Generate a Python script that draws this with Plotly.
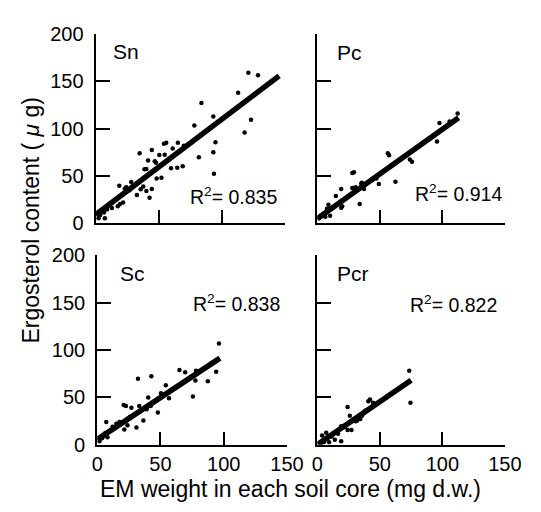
import plotly.graph_objects as go

# ---------------- data ----------------
panel_names = ["Sn", "Pc", "Sc", "Pcr"]
r2_labels = ["0.835", "0.914", "0.838", "0.822"]

sn_x = [120.7, 128.3, 112.6, 83.6, 93.0, 78.0, 122.8, 117.7, 94.7, 93.0, 81.6, 93.5,
        69.7, 65.0, 68.8, 64.5, 59.6, 60.9, 55.8, 54.0, 54.6, 50.3, 46.7, 52.0, 48.2,
        47.7, 44.4, 41.4, 34.8, 40.1, 38.6, 37.6, 42.6, 44.4, 40.1, 32.6, 35.6, 28.1,
        24.2, 18.7, 21.7, 19.2, 17.5, 12.9, 9.1, 6.6, 3.6, 2.3, 7.3, 3.3, 26.8, 23.0]
sn_y = [158.8, 156.0, 137.7, 127.0, 112.6, 103.2, 109.2, 95.8, 85.4, 75.0, 69.6, 52.3,
        81.7, 85.1, 60.3, 58.6, 58.0, 79.0, 85.0, 84.0, 72.4, 72.0, 65.6, 48.2, 47.2,
        64.0, 77.4, 66.3, 74.0, 57.3, 57.0, 38.9, 27.1, 36.2, 34.0, 29.8, 36.0, 43.5,
        38.2, 39.7, 22.1, 20.4, 18.0, 16.1, 14.7, 11.4, 8.7, 5.4, 5.4, 11.5, 34.9, 36.5]

pc_x = [112.2, 97.7, 105.8, 95.7, 75.7, 74.0, 56.4, 57.4, 62.5, 49.2, 35.7, 37.4,
        29.3, 28.0, 28.0, 30.6, 33.9, 19.1, 14.8, 19.9, 19.1, 8.9, 7.7, 10.2, 5.4,
        2.8, 1.5, 6.4, 35.1, 47.2, 42.8]
pc_y = [115.9, 105.8, 107.5, 86.4, 65.0, 67.3, 74.0, 71.7, 43.9, 41.5, 42.9, 36.2,
        54.0, 53.0, 37.2, 38.2, 20.4, 36.2, 28.8, 18.1, 16.4, 19.5, 15.5, 8.0, 10.4,
        7.0, 5.4, 7.0, 42.0, 47.2, 44.7]

sc_x = [96.2, 94.0, 87.4, 75.6, 77.6, 78.1, 69.5, 65.0, 54.2, 50.4, 47.9, 42.8,
        40.3, 42.3, 33.2, 32.2, 31.0, 27.0, 22.7, 20.9, 25.9, 23.9, 21.4, 17.6, 15.1,
        12.1, 11.3, 7.1, 8.1, 6.3, 1.8, 3.8, 56.7, 60.5, 39.0, 36.5]
sc_y = [106.8, 77.0, 66.8, 50.8, 67.8, 78.0, 76.3, 78.7, 62.7, 54.3, 33.9, 72.2,
        49.8, 40.7, 40.7, 69.5, 18.0, 39.0, 40.7, 41.7, 29.5, 20.3, 16.0, 23.8, 22.0,
        18.7, 15.3, 23.8, 7.8, 11.9, 3.5, 6.8, 49.0, 58.7, 37.3, 25.4]

pcr_x = [73.5, 74.5, 42.1, 40.8, 44.6, 34.4, 31.9, 24.2, 26.0, 27.3, 24.2, 19.1,
         19.1, 11.5, 7.1, 3.8, 9.4, 5.1, 2.6, 14.0, 16.6, 21.7, 30.6, 35.7, 38.3]
pcr_y = [78.0, 44.1, 47.5, 45.8, 44.1, 27.1, 25.4, 39.7, 30.5, 15.3, 15.3, 19.3,
         3.4, 8.5, 12.6, 9.7, 2.4, 2.4, 0.5, 5.1, 11.5, 18.5, 24.7, 30.5, 35.6]

# regression lines as drawn in the figure
fit_intercept = [9.0, 5.0, 5.5, 0.0]
fit_slope = [1.01, 0.94, 0.885, 0.905]
fit_xmax = [145.0, 113.0, 97.0, 75.0]

x_ticks = [0, 50, 100, 150]
y_ticks = [0, 50, 100, 150, 200]

xs = [sn_x, pc_x, sc_x, pcr_x]
ys = [sn_y, pc_y, sc_y, pcr_y]

# ---------------- layout ----------------
OFF = 8  # page body margin
W, H = 541 - OFF, 512 - OFF
FONT = "Liberation Sans, Arial, sans-serif"


def px_x(p):
    return (p - OFF) / W


def px_y(p):
    return 1 - (p - OFF) / H


x_domains = [[px_x(93.3), px_x(291.7)], [px_x(325), px_x(521)],
             [px_x(95), px_x(293.3)], [px_x(325), px_x(521)]]
y_domains = [[px_y(221.7), px_y(23.3)], [px_y(221.7), px_y(23.3)],
             [px_y(453), px_y(255)], [px_y(453), px_y(255)]]

fig = go.Figure()
layout = dict(
    width=W, height=H,
    margin=dict(l=0, r=0, t=0, b=0),
    paper_bgcolor="white", plot_bgcolor="white",
    showlegend=False,
    font=dict(family=FONT, color="black", size=20),
)

name_pos = [(12.1, 181.0), (14.0, 180.5), (16.4, 181.0), (14.0, 180.5)]
r2_pos = [(73.1, 29.0), (76.5, 32.0), (74.4, 150.0), (72.7, 149.0)]

annotations = []
for i in range(4):
    sfx = "" if i == 0 else str(i + 1)
    xa, ya = "x" + sfx, "y" + sfx
    fig.add_trace(go.Scatter(x=xs[i], y=ys[i], mode="markers",
                             marker=dict(color="black", size=4.5),
                             xaxis=xa, yaxis=ya))
    lx = [0, fit_xmax[i]]
    ly = [fit_intercept[i] + fit_slope[i] * v for v in lx]
    fig.add_trace(go.Scatter(x=lx, y=ly, mode="lines",
                             line=dict(color="black", width=5.5),
                             xaxis=xa, yaxis=ya))
    left_col = i in (0, 2)
    bottom_row = i in (2, 3)
    layout["xaxis" + sfx] = dict(
        domain=x_domains[i], range=[0, 150], anchor=ya,
        tickvals=x_ticks, ticks="inside", ticklen=13, tickwidth=2, tickcolor="black",
        showline=True, linewidth=2, linecolor="black", showgrid=False, zeroline=False,
        showticklabels=bottom_row, tickfont=dict(size=20, family=FONT),
        fixedrange=True,
    )
    layout["yaxis" + sfx] = dict(
        domain=y_domains[i], range=[0, 200], anchor=xa,
        tickvals=y_ticks, ticks="inside", ticklen=14, tickwidth=2, tickcolor="black",
        showline=True, linewidth=2, linecolor="black", showgrid=False, zeroline=False,
        showticklabels=left_col, tickfont=dict(size=20, family=FONT),
        ticklabelstandoff=6, fixedrange=True,
    )
    annotations.append(dict(x=name_pos[i][0], y=name_pos[i][1], xref=xa, yref=ya,
                            text=panel_names[i], showarrow=False, xanchor="left",
                            yanchor="middle", font=dict(size=21, family=FONT)))
    annotations.append(dict(x=r2_pos[i][0], y=r2_pos[i][1], xref=xa, yref=ya,
                            text="R<sup>2</sup>= " + r2_labels[i], showarrow=False,
                            xanchor="left", yanchor="middle",
                            font=dict(size=19.5, family=FONT)))

annotations.append(dict(x=px_x(26), y=px_y(218.5), xref="paper", yref="paper",
                        text="Ergosterol content ( <i>μ</i> g)", textangle=-90,
                        showarrow=False, xanchor="center", yanchor="middle",
                        font=dict(size=23, family=FONT)))
annotations.append(dict(x=px_x(297), y=px_y(499), xref="paper", yref="paper",
                        text="EM weight in each soil core (mg d.w.)",
                        showarrow=False, xanchor="center", yanchor="middle",
                        font=dict(size=23, family=FONT)))
layout["annotations"] = annotations
fig.update_layout(**layout)
fig.write_html("out.html")
